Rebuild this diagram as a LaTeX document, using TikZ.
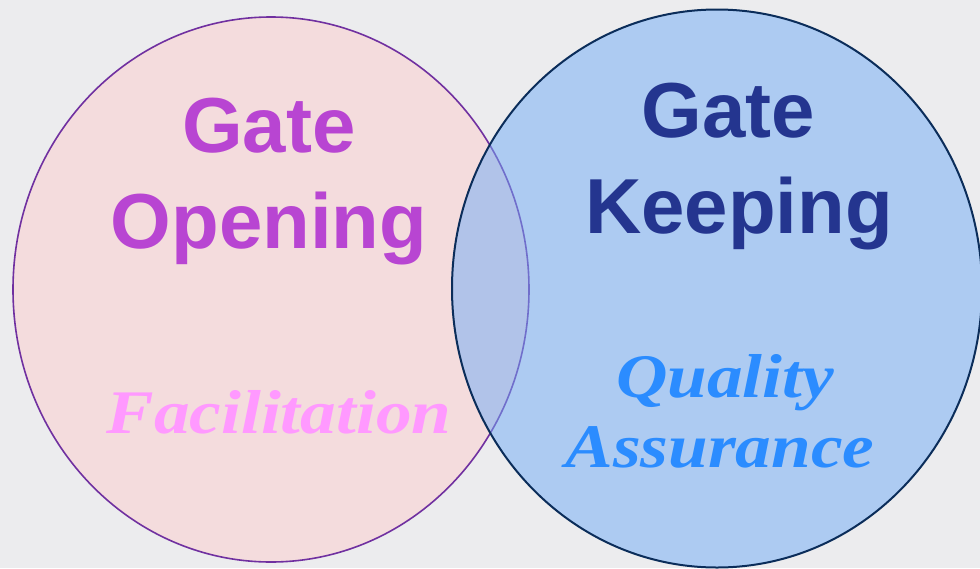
\documentclass[tikz,border=0pt]{standalone}
\usepackage{fontspec}
\setmainfont{Liberation Serif}
\newfontfamily\headfont{Liberation Sans}
\usepackage{graphicx}
\usepackage{pdfrender}
\usetikzlibrary{shapes.geometric}
\definecolor{bgcol}{HTML}{ECECEE}
\definecolor{pinkfill}{HTML}{F4DCDD}
\definecolor{purpleline}{HTML}{7030A0}
\definecolor{bluefill}{HTML}{70ACF6}
\definecolor{navyline}{HTML}{0B2D5A}
\definecolor{openingcol}{HTML}{B845D2}
\definecolor{keepingcol}{HTML}{24358F}
\definecolor{keepingstroke}{HTML}{0A1F70}
\definecolor{facilcol}{HTML}{FF99FF}
\definecolor{qualcol}{HTML}{2B8CFF}
\tikzset{
  setcircle/.style={ellipse, inner sep=0pt},
  headtext/.style={anchor=base, inner sep=0pt, font=\headfont\bfseries\fontsize{78}{90}\selectfont},
  subtext/.style={anchor=base, inner sep=0pt, font=\bfseries\itshape\fontsize{62}{70}\selectfont},
}
\newcommand{\widen}[2]{\scalebox{1.15}[1]{\textpdfrender{TextRenderingMode=FillStroke,LineWidth=1.3,StrokeColor=#1}{#2}}}
\newcommand{\outlined}[1]{\textpdfrender{TextRenderingMode=FillStroke,LineWidth=1.2,StrokeColor=keepingstroke}{#1}}
\begin{document}
\begin{tikzpicture}[x=1pt,y=-1pt]
\fill[bgcol] (0,0) rectangle (980,568);
\useasboundingbox (0,0) rectangle (980,568);
% left set
\node[setcircle, fill=pinkfill, draw=purpleline, line width=1.6pt,
      minimum width=516pt, minimum height=545pt] (left) at (271,289.5) {};
% right set
\node[setcircle, fill=bluefill, fill opacity=0.5, draw=navyline, draw opacity=1, line width=2pt,
      minimum width=530pt, minimum height=558pt] (right) at (717,288.5) {};
% headings
\node[headtext, text=openingcol] (gate1) at (269,152) {Gate};
\node[headtext, text=openingcol] (opening) at (269,248) {Opening};
\node[headtext, text=keepingcol] (gate2) at (728.5,137) {\outlined{Gate}};
\node[headtext, text=keepingcol] (keeping) at (739,233) {\outlined{Keeping}};
% sub labels
\node[subtext, text=facilcol] (facil) at (279,433) {\widen{facilcol}{Facilitation}};
\node[subtext, text=qualcol] (quality) at (725,397) {\widen{qualcol}{Quality}};
\node[subtext, text=qualcol] (assurance) at (720,467) {\widen{qualcol}{Assurance}};
\end{tikzpicture}
\end{document}
